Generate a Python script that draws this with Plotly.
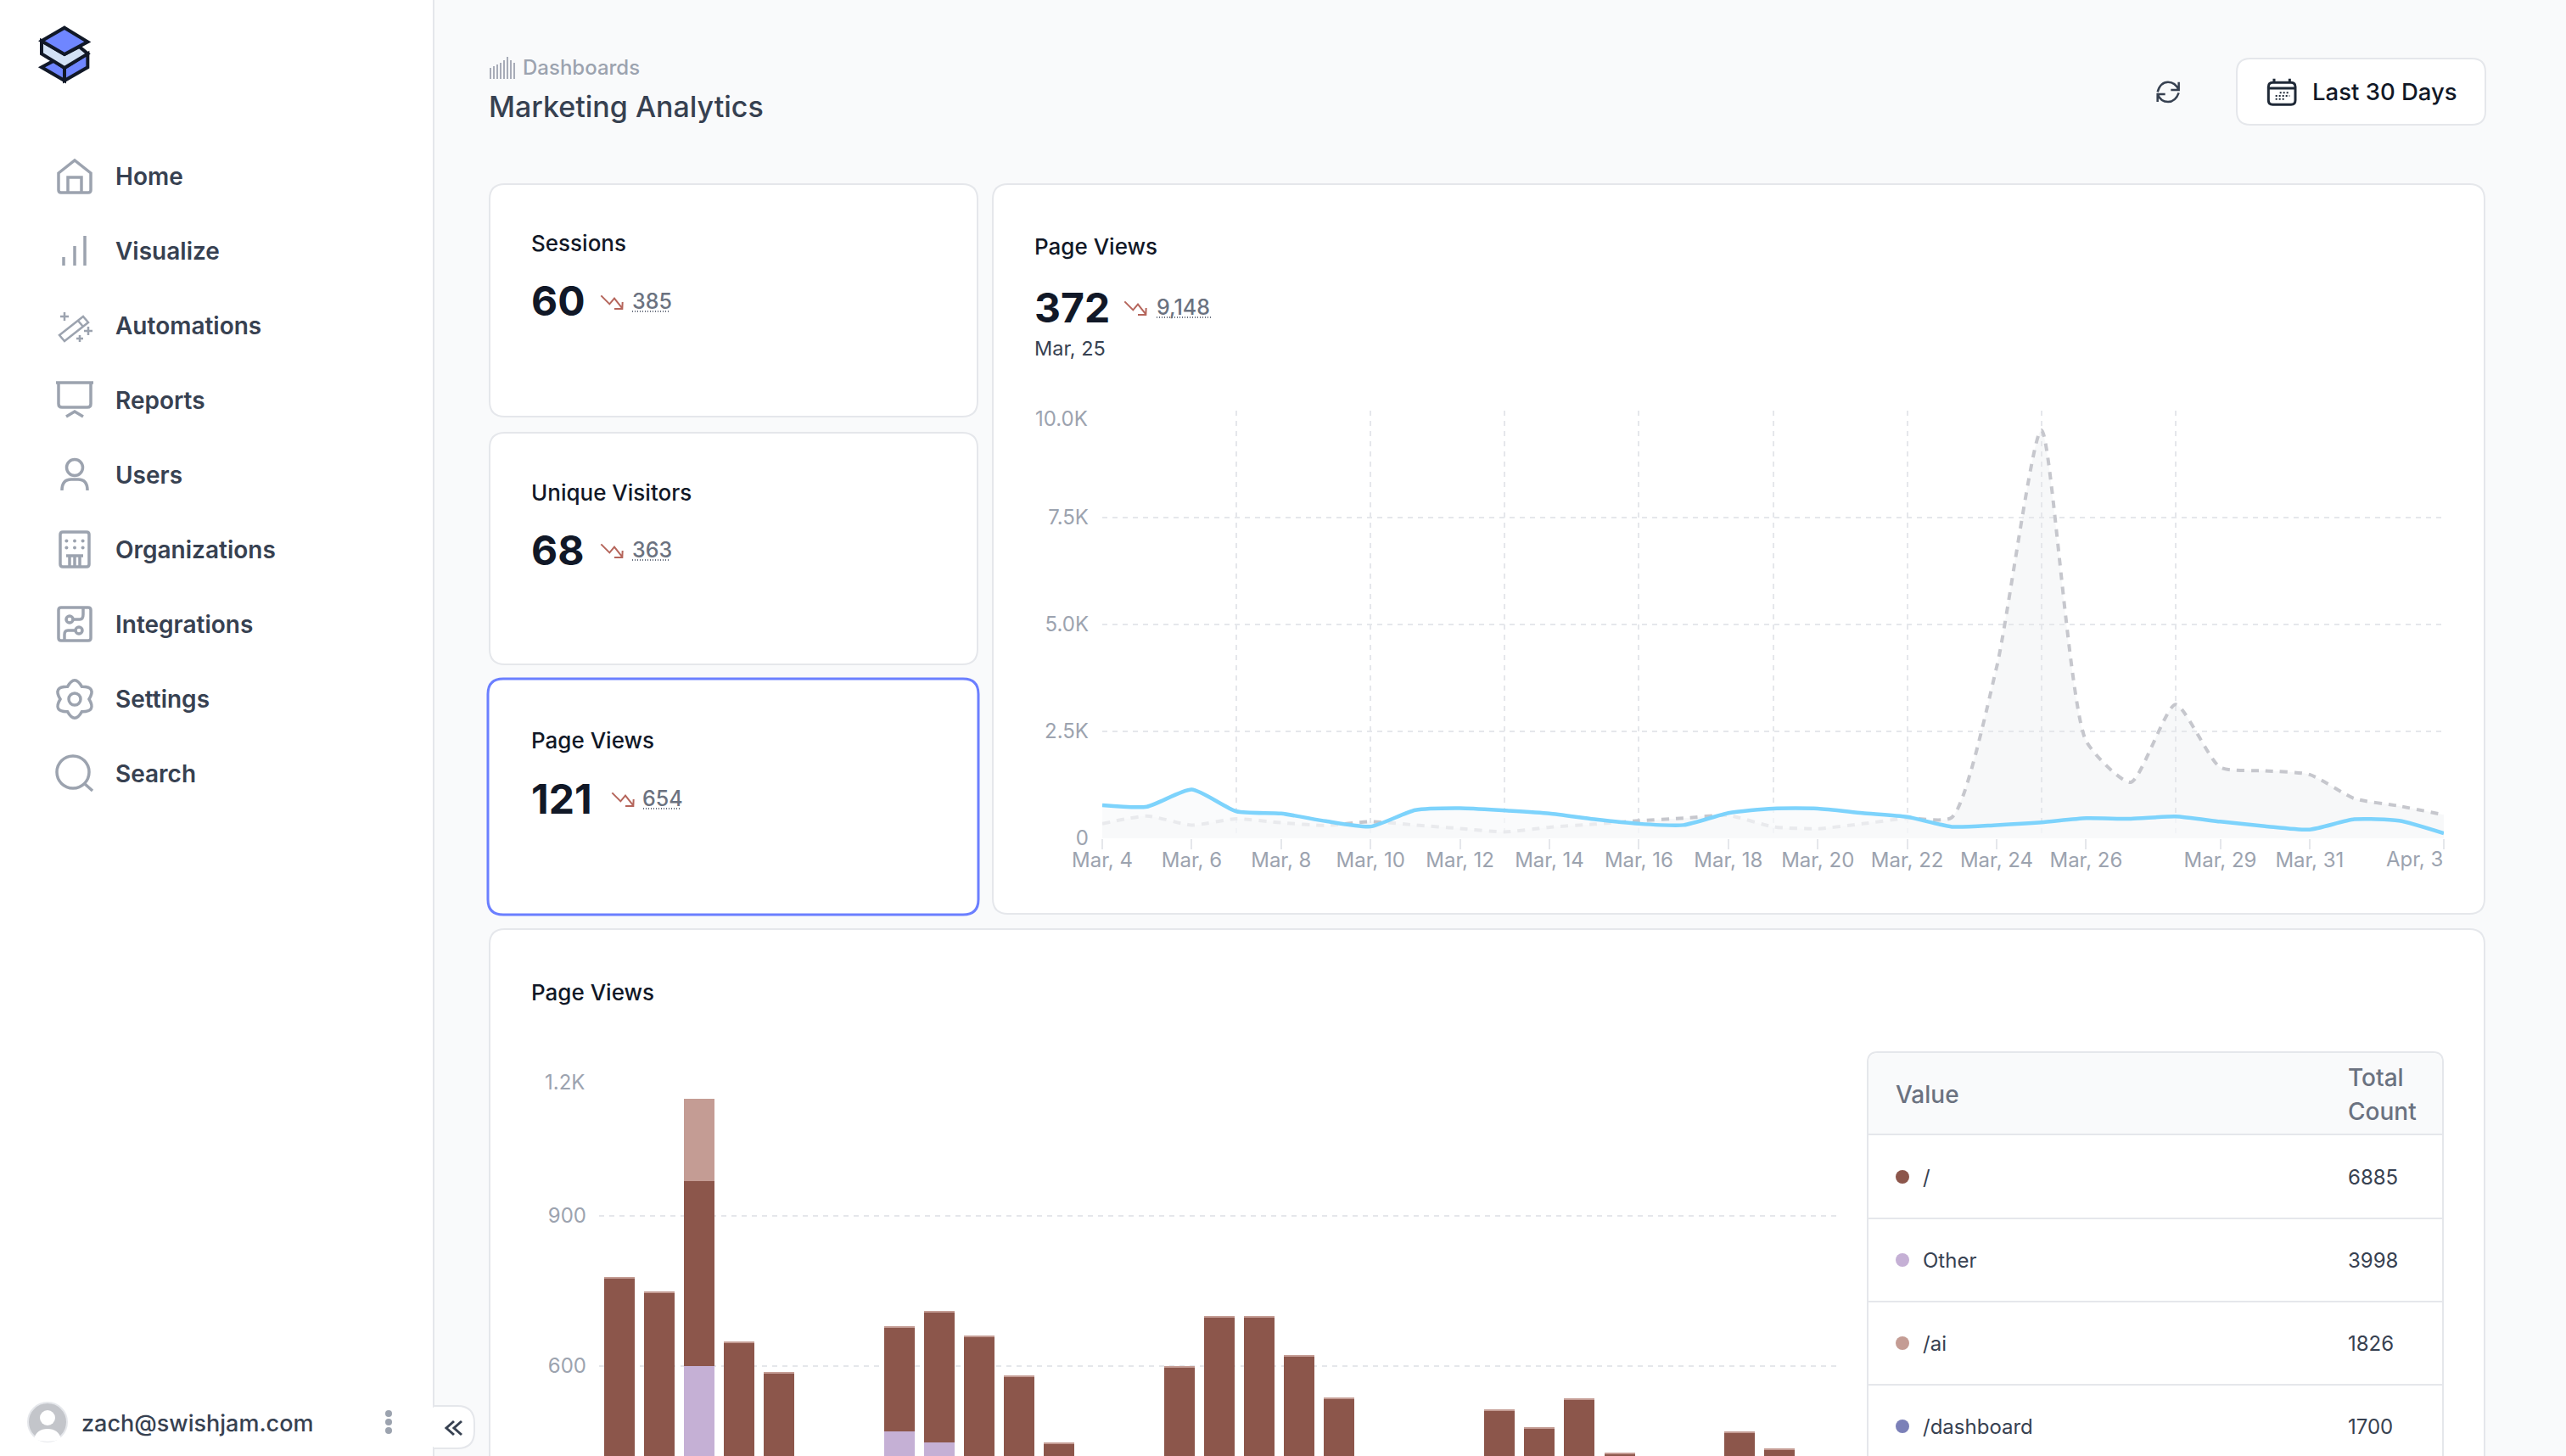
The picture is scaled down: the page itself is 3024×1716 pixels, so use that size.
import math
import re

import pandas as pd
import plotly.graph_objects as go

W, H = 3024, 1716
FONT = 'Inter'

# Data
day_labels = pd.date_range('2024-03-04', '2024-04-03').strftime('%Y-%m-%d').tolist()

current_views = [775, 740, 1140, 630, 580, 400, 275, 660, 705, 650, 580, 445, 340, 310, 590, 695,
                 695, 590, 500, 270, 310, 372, 470, 455, 510, 390, 285, 205, 445, 410, 115]
previous_views = [340, 520, 310, 455, 365, 300, 390, 310, 230, 150, 260, 330, 410, 470, 535, 270,
                  225, 340, 470, 490, 4000, 9545, 2280, 1310, 3130, 1660, 1580, 1490, 930, 755, 550]

views_other = [330, 320, 600, 300, 280, 0, 0, 470, 448, 310, 290, 250, 0, 0, 300, 330,
               340, 300, 280, 0, 0, 0, 270, 260, 270, 240, 0, 0, 250, 240, 0]
views_root = [445, 427, 370, 346, 305, 0, 0, 207, 259, 349, 289, 195, 0, 0, 297, 367,
              358, 319, 255, 0, 0, 0, 241, 215, 263, 184, 0, 0, 217, 193, 0]
views_ai = [2, 2, 164, 2, 2, 0, 0, 2, 2, 2, 2, 2, 0, 0, 2, 2,
            2, 2, 2, 0, 0, 0, 2, 2, 2, 3, 0, 0, 2, 2, 0]

line_tick_dates = ['2024-03-04', '2024-03-06', '2024-03-08', '2024-03-10', '2024-03-12', '2024-03-14',
                   '2024-03-16', '2024-03-18', '2024-03-20', '2024-03-22', '2024-03-24', '2024-03-26',
                   '2024-03-29', '2024-03-31', '2024-04-03']
line_tick_text = ['Mar, 4', 'Mar, 6', 'Mar, 8', 'Mar, 10', 'Mar, 12', 'Mar, 14', 'Mar, 16', 'Mar, 18',
                  'Mar, 20', 'Mar, 22', 'Mar, 24', 'Mar, 26', 'Mar, 29', 'Mar, 31', '']
line_grid_dates = ['2024-03-07', '2024-03-10', '2024-03-13', '2024-03-16',
                   '2024-03-19', '2024-03-22', '2024-03-25', '2024-03-28']

nav_items = ['Home', 'Visualize', 'Automations', 'Reports', 'Users',
             'Organizations', 'Integrations', 'Settings', 'Search']
table_values = ['/', 'Other', '/ai', '/dashboard']
table_counts = ['6885', '3998', '1826', '1700']
table_colors = ['#8c564b', '#c5b0d5', '#c49c94', '#7b80b8']


def X(px):
    return px / W


def Y(py):
    return 1 - py / H


shapes = []
annotations = []


def text(s, x, y, size=28, color='#374151', weight=400, anchor='left'):
    if anchor == 'left':
        x -= 1.5
    annotations.append(dict(text=s, x=X(x), y=Y(y), xref='paper', yref='paper', showarrow=False,
                            xanchor=anchor, yanchor='middle', borderpad=0,
                            font=dict(family=FONT, size=size, color=color, weight=weight)))


def rrect(x0, y0, x1, y1, r, fill='white', line='#e5e7eb', width=2):
    d = (f'M{x0 + r} {y0} L{x1 - r} {y0} Q{x1} {y0} {x1} {y0 + r} L{x1} {y1 - r} Q{x1} {y1} {x1 - r} {y1} '
         f'L{x0 + r} {y1} Q{x0} {y1} {x0} {y1 - r} L{x0} {y0 + r} Q{x0} {y0} {x0 + r} {y0} Z')
    draw(d, fill=fill, color=line, width=width)


def draw(d, ox=0, oy=0, s=1, fill=None, color='#9ca3af', width=3.5, dash=None):
    """Add an svg path given in local units, placed at (ox, oy) with scale s."""
    nums = iter(re.findall(r'-?\d+\.?\d*|[A-Z]', d))
    out = []
    for tok in nums:
        if tok.isalpha():
            out.append(tok)
        else:
            px = ox + float(tok) * s
            py = oy + float(next(nums)) * s
            out.append(f'{X(px):.6f},{Y(py):.6f}')
    line = dict(color=color, width=width)
    if dash:
        line['dash'] = dash
    shapes.append(dict(type='path', path=' '.join(out), xref='paper', yref='paper', layer='below',
                       fillcolor=fill or 'rgba(0,0,0,0)', line=line))


def dot(x, y, r, fill='#9ca3af', line=None, width=0):
    shapes.append(dict(type='circle', xref='paper', yref='paper', layer='below',
                       x0=X(x - r), x1=X(x + r), y0=Y(y - r), y1=Y(y + r), fillcolor=fill,
                       line=dict(color=line or fill, width=width)))


def hollow(x, y, r, color='#9ca3af', width=3.5):
    shapes.append(dict(type='circle', xref='paper', yref='paper', layer='below',
                       x0=X(x - r), x1=X(x + r), y0=Y(y - r), y1=Y(y + r), fillcolor='rgba(0,0,0,0)',
                       line=dict(color=color, width=width)))


def trend(ox, oy):
    draw('M25 55 L55 85 L72 65 L100 100 M72 102 L100 102 L101 78', ox, oy, 1 / 3, color='#b5655b', width=2)


def kpi(title, value, delta, x, y_title, y_value, trend_x, delta_x, delta_w):
    text(title, x, y_title, 26, '#111827', 500)
    text(value, x, y_value, 48, '#111827', 700)
    trend(trend_x, y_value - 25)
    text(delta, delta_x, y_value, 25, '#6b7280', 500)
    draw(f'M{delta_x} {y_value + 12} L{delta_x + delta_w} {y_value + 12}', color='#6b7280', width=2, dash='1px,2px')


# Page frame
rrect(-20, -20, 511, 1760, 0, fill='white', line='#e5e7eb', width=2)
draw('M511 1657 L539 1657 Q559 1657 559 1677 L559 1687 Q559 1707 539 1707 L511 1707', fill='white',
     color='#e5e7eb', width=2)
shapes.append(dict(type='rect', xref='paper', yref='paper', layer='below', x0=X(505), x1=X(515),
                   y0=Y(1659), y1=Y(1705), fillcolor='white', line=dict(width=0)))
draw('M535 1675 L526 1683 L535 1691 M544 1675 L535 1683 L544 1691', color='#374151', width=3)

# Logo
LOGO = dict(ox=30, oy=20, s=1 / 3, color='#111827', width=4)
draw('M57 178 L100 155 L138 180 L138 225 Z', fill='#6f86ff', **LOGO)
draw('M138 180 L220 130 L220 178 L138 225 Z', fill='#6f86ff', **LOGO)
draw('M57 85 L138 132 L190 105 L220 130 L138 180 L57 130 Z', fill='#d3e2f6', **LOGO)
draw('M138 38 L220 88 L138 132 L57 85 Z', fill='#6f86ff', **LOGO)

# Sidebar
nav_y = [208, 296, 384, 472, 560, 648, 736, 824, 912]
for name, y in zip(nav_items, nav_y):
    text(name, 136, y, 28, '#374151', 600)


def nav_icon(i, d, **kw):
    draw(d, 88 - 24, nav_y[i] - 24, 2, **kw)


nav_icon(0, 'M2.5 10 L12 2.5 L21.5 10 L21.5 20 Q21.5 21.5 20 21.5 L4 21.5 Q2.5 21.5 2.5 20 Z '
            'M8 21.5 L8 12.5 L16 12.5 L16 21.5')
nav_icon(1, 'M5.5 15.5 L5.5 20.5 M12 9 L12 20.5 M18 3 L18 20.5')
nav_icon(2, 'M3 17.5 L17 6.5 L20 10 L6 21 Z M14 9 L17 12.5 M6 4 L6 9 M3.5 6.5 L8.5 6.5 '
            'M20 12.5 L20 17.5 M17.5 15 L22.5 15 M15 17.5 L15 21.5 M13 19.5 L17 19.5', width=2.5)
nav_icon(3, 'M1 1.5 L23 1.5 M2.5 1.5 L2.5 14 Q2.5 16 4.5 16 L19.5 16 Q21.5 16 21.5 14 L21.5 1.5 '
            'M7 21.5 L12 18.5 L17 21.5')
hollow(88, 551, 9.5)
nav_icon(4, 'M4.5 21 Q4.5 14.5 10 14.5 L14 14.5 Q19.5 14.5 19.5 21')
nav_icon(5, 'M5 1.5 L19 1.5 Q20.5 1.5 20.5 3 L20.5 20.5 Q20.5 22 19 22 L5 22 Q3.5 22 3.5 20.5 L3.5 3 '
            'Q3.5 1.5 5 1.5 Z M7 15.5 L17 15.5 M9 15.5 L9 22 M15 15.5 L15 22 M12 15.5 L12 22')
for col in [7.2, 12, 16.8]:
    for row in [6.8, 10.8]:
        dot(88 - 24 + col * 2, nav_y[5] - 24 + row * 2, 2)
nav_icon(6, 'M4 2 L20 2 Q21.5 2 21.5 3.5 L21.5 20 Q21.5 21.5 20 21.5 L4 21.5 Q2.5 21.5 2.5 20 L2.5 3.5 '
            'Q2.5 2 4 2 Z M11 9 L15 9 Q17 9 17 6 L17 2 M12 15.5 L8 15.5 Q6 15.5 6 18 L6 21.5')
hollow(82, 730, 4)
hollow(93, 743, 4)

# gear outline: six lobes between valleys
gear_path = ''
for k in range(7):
    valley = math.pi * k / 3
    vx, vy = 12 + 8.5 * math.cos(valley), 12 + 8.5 * math.sin(valley)
    if k == 0:
        gear_path += f'M{vx:.2f} {vy:.2f} '
    else:
        mid = valley - math.pi / 6
        gear_path += f'Q{12 + 15 * math.cos(mid):.2f} {12 + 15 * math.sin(mid):.2f} {vx:.2f} {vy:.2f} '
nav_icon(7, gear_path + 'Z')
hollow(88, 824, 7)

hollow(86, 910, 19)
nav_icon(8, 'M17.5 17.5 L22.5 22')

# Sidebar footer
dot(56, 1676, 23, '#c3c5ca', '#e5e7eb', 2)
dot(56, 1671, 9, 'white')
draw('M40 1696 Q43 1684 56 1684 Q69 1684 72 1696 Q64 1699 56 1699 Q48 1699 40 1696 Z', fill='white', color='white', width=0)
text('zach@swishjam.com', 96, 1677, 27, '#374151', 500)
for yy in [1666, 1676, 1686]:
    dot(458, yy, 4)

# Header
for bar_x, bar_top in zip(range(578, 607, 4), [80, 78, 76, 74, 71, 67, 71, 74]):
    draw(f'M{bar_x} {bar_top} L{bar_x} 93', color='#a8acb8', width=2)
text('Dashboards', 616, 80, 24, '#9ca3af', 500)
text('Marketing Analytics', 576, 125, 34, '#374151', 500)
draw('M128 175 C135 150 150 140 165 140 C185 140 195 150 203 168 M203 140 L203 168 L175 168 '
     'M203 178 C195 200 180 210 165 210 C145 210 135 200 128 183 M128 210 L128 183 L155 183',
     2500, 50, 1 / 3, color='#374151', width=2.5)
rrect(2636, 69, 2929, 147, 16)
CAL = dict(ox=2500, oy=50, s=1 / 3, color='#1f2937', width=3)
draw('M535 142 L600 142 Q615 142 615 157 L615 205 Q615 220 600 220 L535 220 Q520 220 520 205 L520 157 '
     'Q520 142 535 142 Z M520 162 L615 162 M540 128 L540 146 M595 128 L595 146', **CAL)
draw('M560 178 L595 178 M545 189 L595 189 M545 200 L580 200', 2500, 50, 1 / 3, color='#1f2937', width=2, dash='2px,2px')
text('Last 30 Days', 2725, 108, 27.5, '#111827', 500)

# Cards
rrect(577, 217, 1152, 491, 18)
rrect(577, 510, 1152, 783, 18)
rrect(575, 800, 1153, 1078, 18, line='#6b7fff', width=3)
rrect(1170, 217, 2928, 1077, 18)
rrect(577, 1095, 2928, 1780, 18)

kpi('Sessions', '60', '385', 626, 287, 355, 700, 745, 45)
kpi('Unique Visitors', '68', '363', 626, 580, 648, 700, 745, 45)
kpi('Page Views', '121', '654', 626, 872, 941, 713, 758, 45)
kpi('Page Views', '372', '9,148', 1219, 290, 362, 1317, 1363, 66)
text('Mar, 25', 1219, 411, 23.5, '#374151', 400)
text('Page Views', 626, 1169, 26, '#111827', 500)

# Extra axis labels that sit off their tick
text('10.0K', 1283, 493, 24, '#9ca3af', 400, 'right')
text('Apr, 3', 2880, 1012, 24, '#9ca3af', 400, 'right')
text('1.2K', 690, 1275, 24, '#9ca3af', 400, 'right')

# Table
rrect(2201, 1240, 2879, 1780, 12)
shapes.append(dict(type='path', xref='paper', yref='paper', layer='below', line=dict(width=0), fillcolor='#f9fafb',
                   path=f'M{X(2202)},{Y(1337)} L{X(2202)},{Y(1253)} Q{X(2202)},{Y(1241)} {X(2214)},{Y(1241)} '
                        f'L{X(2866)},{Y(1241)} Q{X(2878)},{Y(1241)} {X(2878)},{Y(1253)} L{X(2878)},{Y(1337)} Z'))
for yy in [1337, 1436, 1534, 1632]:
    draw(f'M2201 {yy} L2879 {yy}', color='#e5e7eb', width=2)
text('Value', 2234, 1290, 28, '#6b7280', 500)
text('Total', 2767, 1270, 28, '#6b7280', 500)
text('Count', 2767, 1310, 28, '#6b7280', 500)
for name, count, color, yy in zip(table_values, table_counts, table_colors, [1387, 1485, 1583, 1681]):
    dot(2242, yy, 8, color)
    text(name, 2266, yy, 24, '#374151', 400)
    text(count, 2767, yy, 24, '#374151', 400)

# Charts
fig = go.Figure()
fig.add_trace(go.Scatter(x=day_labels, y=previous_views, mode='lines', name='Previous',
                         line=dict(color='#c6c7cd', width=4, dash='9px,8px', shape='spline', smoothing=0.6),
                         fill='tozeroy', fillcolor='rgba(229,231,235,0.3)', xaxis='x', yaxis='y'))
fig.add_trace(go.Scatter(x=day_labels, y=current_views, mode='lines', name='Current',
                         line=dict(color='#7dd3fc', width=4.5, shape='spline', smoothing=0.6),
                         fill='tozeroy', fillcolor='rgba(248,249,251,0.7)', xaxis='x', yaxis='y'))

fig.add_trace(go.Bar(x=day_labels, y=views_other, name='Other', marker=dict(color='#c5b0d5', line=dict(width=0)),
                     xaxis='x2', yaxis='y2'))
fig.add_trace(go.Bar(x=day_labels, y=views_root, name='/', marker=dict(color='#8c564b', line=dict(width=0)),
                     xaxis='x2', yaxis='y2'))
fig.add_trace(go.Bar(x=day_labels, y=views_ai, name='/ai', marker=dict(color='#c49c94', line=dict(width=0)),
                     xaxis='x2', yaxis='y2'))

tick_font = dict(family=FONT, size=24, color='#9ca3af')
fig.update_layout(
    width=W, height=H, margin=dict(l=0, r=0, t=0, b=0), autosize=False,
    paper_bgcolor='#f9fafb', plot_bgcolor='rgba(0,0,0,0)', showlegend=False,
    barmode='stack', bargap=0.237, shapes=shapes, annotations=annotations,
    xaxis=dict(domain=[X(1299), X(2880)], range=['2024-03-04', '2024-04-03'], type='date', anchor='y',
               automargin=False, tickvals=line_tick_dates, ticktext=line_tick_text, tickfont=tick_font,
               ticks='outside', ticklen=12, tickwidth=2, tickcolor='#e5e7eb', showgrid=False, zeroline=False,
               showline=False, ticklabelstandoff=-8,
               minor=dict(tickvals=line_grid_dates, showgrid=True, gridcolor='#e5e7eb', gridwidth=1.5,
                          griddash='6px,6px', ticks='')),
    yaxis=dict(domain=[Y(988), Y(484)], range=[0, 10000], anchor='x', tickvals=[0, 2500, 5000, 7500, 10000],
               automargin=False, ticktext=['0', '2.5K', '5.0K', '7.5K', ''], tickfont=tick_font, ticks='',
               showline=False, gridcolor='#e5e7eb', gridwidth=2, griddash='6px,6px', zeroline=False,
               ticklabelstandoff=15),
    xaxis2=dict(domain=[X(706), X(2168)], range=['2024-03-03 12:00', '2024-04-03 12:00'], type='date', anchor='y2',
                automargin=False, showticklabels=False, ticks='', showgrid=False, zeroline=False, showline=False),
    yaxis2=dict(domain=[0, Y(1256)], range=[420.3, 1200], anchor='x2', tickvals=[600, 900, 1200],
                automargin=False, ticktext=['600', '900', ''], tickfont=tick_font, ticks='', showline=False,
                gridcolor='#e5e7eb', gridwidth=2, griddash='6px,6px', zeroline=False, ticklabelstandoff=14),
)

fig.write_html('out.html', config={'displayModeBar': False},
               post_script="document.body.style.margin='0';document.body.style.overflow='hidden';")
